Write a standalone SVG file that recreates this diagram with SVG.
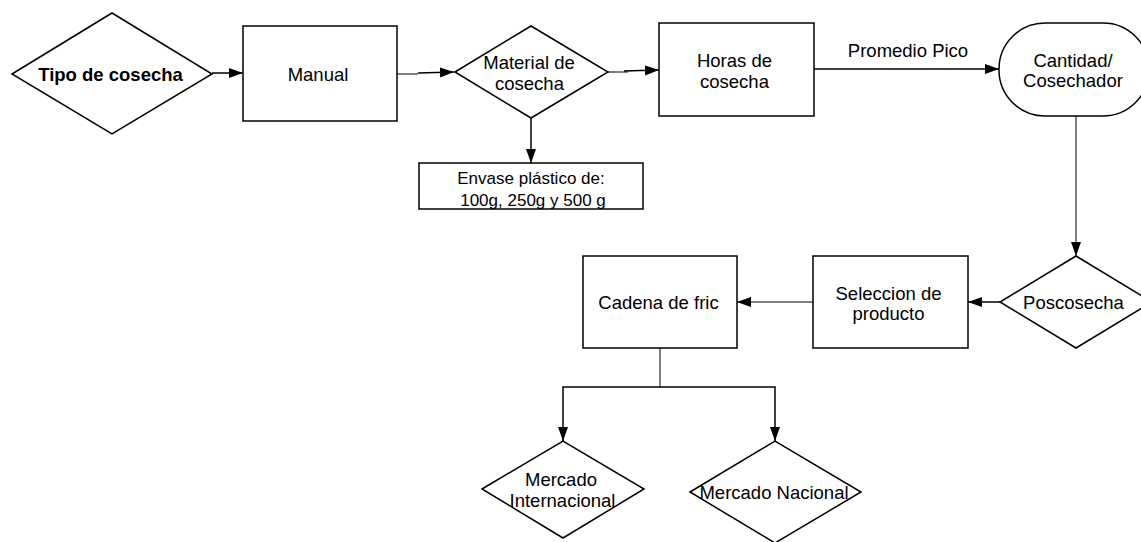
<svg xmlns="http://www.w3.org/2000/svg" width="1141" height="542" viewBox="0 0 1141 542">
<defs>
<marker id="arr" markerUnits="userSpaceOnUse" markerWidth="15" markerHeight="11" refX="14" refY="5" orient="auto">
<path d="M0,0 L14,5 L0,10 z" fill="#000"/>
</marker>
<style>
.shape{fill:#fff;stroke:#000;stroke-width:1.5}
.t{font-family:"Liberation Sans",Arial,sans-serif;font-size:18.5px;fill:#000;text-anchor:middle;dominant-baseline:central}
.b{font-weight:bold;font-size:18.5px}
.s{font-size:17px}
.c{fill:none;stroke:#000;stroke-width:1.5}
.g{fill:none;stroke:#555;stroke-width:1.5}
</style>
</defs>
<rect width="1141" height="542" fill="#fff"/>
<g id="connectors">
<path class="c" d="M212,73 L243,73" marker-end="url(#arr)"/>
<path class="g" d="M397,74 L418,74"/>
<path class="c" d="M418,73 L454,72" marker-end="url(#arr)"/>
<path class="g" d="M608,72 L628,72"/>
<path class="c" d="M624,71 L659,70" marker-end="url(#arr)"/>
<path class="c" d="M531,118 L531,163" marker-end="url(#arr)"/>
<path class="c" d="M814,69 L999,69" marker-end="url(#arr)"/>
<text class="t" x="908" y="50">Promedio Pico</text>
<path class="g" d="M1076,116 L1076,256" marker-end="url(#arr)"/>
<path class="c" d="M1000,302 L968,302" marker-end="url(#arr)"/>
<path class="g" d="M813,302 L737,302" marker-end="url(#arr)"/>
<path class="g" d="M660,348 L660,387"/>
<path class="c" d="M660,387 L563,387 L563,441" marker-end="url(#arr)"/>
<path class="c" d="M660,387 L775,387 L775,441" marker-end="url(#arr)"/>
</g>
<g id="tipo">
<polygon class="shape" points="12,74 112,13 212,74 112,134"/>
<text class="t b" x="110.5" y="74">Tipo de cosecha</text>
</g>
<g id="manual">
<rect class="shape" x="243" y="26" width="154" height="95"/>
<text class="t" x="318" y="74">Manual</text>
</g>
<g id="material">
<polygon class="shape" points="455,72 531,26 608,72 531,118"/>
<text class="t" x="529" y="62">Material de</text>
<text class="t" x="529.5" y="83">cosecha</text>
</g>
<g id="envase">
<rect class="shape" x="419" y="163" width="224" height="46"/>
<text class="t s" x="531" y="178">Envase plástico de:</text>
<text class="t s" x="533" y="200">100g, 250g y 500 g</text>
</g>
<g id="horas">
<rect class="shape" x="659" y="23" width="155" height="93"/>
<text class="t" x="734.5" y="60">Horas de</text>
<text class="t" x="734.5" y="81">cosecha</text>
</g>
<g id="cantidad">
<rect class="shape" x="999" y="23" width="150" height="93" rx="46" ry="46"/>
<text class="t" x="1073" y="60">Cantidad/</text>
<text class="t" x="1073" y="80">Cosechador</text>
</g>
<g id="poscosecha">
<polygon class="shape" points="1000,302 1076,256 1152,302 1076,348"/>
<text class="t" x="1073.5" y="302">Poscosecha</text>
</g>
<g id="seleccion">
<rect class="shape" x="813" y="256" width="155" height="92"/>
<text class="t" x="888.5" y="293">Seleccion de</text>
<text class="t" x="888.5" y="313">producto</text>
</g>
<g id="cadena">
<rect class="shape" x="583" y="256" width="154" height="92"/>
<text class="t" x="658.5" y="302">Cadena de fric</text>
</g>
<g id="internacional">
<polygon class="shape" points="482,489 563,441 644,489 563,538"/>
<text class="t" x="561" y="479">Mercado</text>
<text class="t" x="562.5" y="500">Internacional</text>
</g>
<g id="nacional">
<polygon class="shape" points="690,492 775,441 861,492 775,543"/>
<text class="t" x="774" y="492">Mercado Nacional</text>
</g>
</svg>
